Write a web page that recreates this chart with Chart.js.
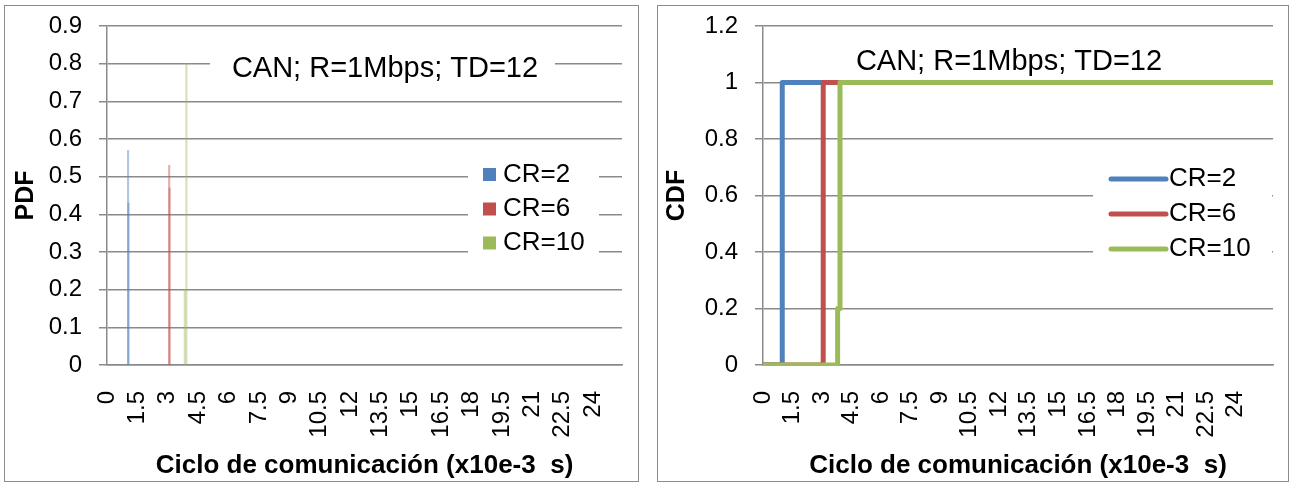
<!DOCTYPE html>
<html>
<head>
<meta charset="utf-8">
<title>CAN PDF / CDF</title>
<script src="https://cdn.jsdelivr.net/npm/chart.js@4.4.1/dist/chart.umd.min.js"></script>
<style>
    html, body { margin: 0; padding: 0; background: #fff; }
    body { width: 1290px; height: 486px; position: relative; overflow: hidden; }
    .panel {
        position: absolute;
        top: 5px;
        height: 477px;
        border: 1px solid #8c8c8c;
        box-sizing: border-box;
        background: #fff;
    }
    #panel-pdf { left: 4px;   width: 635px; }
    #panel-cdf { left: 657px; width: 632px; }
    .panel canvas { display: block; }
</style>
</head>
<body>
<div class="panel" id="panel-pdf"><canvas id="chart-pdf" width="633" height="475"></canvas></div>
<div class="panel" id="panel-cdf"><canvas id="chart-cdf" width="630" height="475"></canvas></div>

<script>
// ---------------------------------------------------------------------------
// Data
// ---------------------------------------------------------------------------

const CR_LABELS = ['CR=2', 'CR=6', 'CR=10'];
const CR_COLORS = ['#4F81BD', '#C0504D', '#9BBB59'];
const CR_BARS   = ['rgba(79,129,189,0.45)', 'rgba(192,80,77,0.45)', 'rgba(155,187,89,0.42)'];

const X_TICKS     = [0, 1.5, 3, 4.5, 6, 7.5, 9, 10.5, 12, 13.5, 15, 16.5, 18, 19.5, 21, 22.5, 24];
const PDF_Y_TICKS = [0, 0.1, 0.2, 0.3, 0.4, 0.5, 0.6, 0.7, 0.8, 0.9];
const CDF_Y_TICKS = [0, 0.2, 0.4, 0.6, 0.8, 1, 1.2];

// PDF: the two non-zero bins of each series
const pdfX_cr2  = [1.04, 1.06];
const pdfY_cr2  = [0.57, 0.43];
const pdfX_cr6  = [3.07, 3.09];
const pdfY_cr6  = [0.53, 0.47];
const pdfX_cr10 = [3.84, 3.92];
const pdfY_cr10 = [0.2, 0.8];

// CDF: step curves
const cdfX_cr2  = [0, 0.97, 0.975, 0.98, 25.9];
const cdfY_cr2  = [0, 0, 0.43, 1, 1];
const cdfX_cr6  = [0, 3.05, 3.055, 3.06, 25.9];
const cdfY_cr6  = [0, 0, 0.47, 1, 1];
const cdfX_cr10 = [0, 3.78, 3.79, 3.9, 3.91, 25.9];
const cdfY_cr10 = [0, 0, 0.2, 0.2, 1, 1];

const FONT      = '"Liberation Sans", Arial, sans-serif';
const GRID_GREY = '#8a8a8a';
const X_TITLE   = 'Ciclo de comunicación (x10e-3  s)';
const PANEL_TITLE = 'CAN; R=1Mbps; TD=12';

Chart.defaults.font.family = FONT;
Chart.defaults.color = '#000';

const points = (xs, ys) => xs.map((x, i) => ({ x, y: ys[i] }));

// ---------------------------------------------------------------------------
// In-plot title + legend box (drawn over the grid, like the Excel original)
// ---------------------------------------------------------------------------

const panelNotes = {
    id: 'panelNotes',
    afterDatasetsDraw(chart, args, opts) {
        const ctx = chart.ctx;
        ctx.save();

        if (opts.titleBox) {
            const b = opts.titleBox;
            ctx.fillStyle = '#fff';
            ctx.fillRect(b.x, b.y, b.w, b.h);
        }
        ctx.fillStyle = '#000';
        ctx.font = `${opts.titleSize}px ${FONT}`;
        ctx.textAlign = 'center';
        ctx.textBaseline = 'middle';
        ctx.fillText(PANEL_TITLE, opts.titleX, opts.titleY);

        const lg = opts.legend;
        ctx.fillStyle = '#fff';
        ctx.fillRect(lg.x, lg.y, lg.w, lg.h);
        ctx.font = `${lg.size}px ${FONT}`;
        ctx.textAlign = 'left';

        CR_LABELS.forEach((label, i) => {
            const cy = lg.rows[i];
            if (lg.marker === 'box') {
                ctx.fillStyle = CR_COLORS[i];
                ctx.fillRect(lg.markerX, cy - 6.5, 13, 13);
            } else {
                ctx.strokeStyle = CR_COLORS[i];
                ctx.lineWidth = 5;
                ctx.lineCap = 'round';
                ctx.beginPath();
                ctx.moveTo(lg.markerX, cy);
                ctx.lineTo(lg.markerX + lg.markerW, cy);
                ctx.stroke();
            }
            ctx.fillStyle = '#000';
            ctx.fillText(label, lg.textX, cy);
        });

        ctx.restore();
    },
};

// ---------------------------------------------------------------------------
// Shared axis builders
// ---------------------------------------------------------------------------

function xAxis(max) {
    return {
        type: 'linear',
        min: 0,
        max,
        offset: false,
        afterBuildTicks: axis => { axis.ticks = X_TICKS.map(v => ({ value: v })); },
        afterFit: axis => {
            axis.height = 116;
            axis.paddingLeft = 0;
            axis.paddingRight = 0;
        },
        ticks: {
            autoSkip: false,
            minRotation: 90,
            maxRotation: 90,
            padding: 26,
            font: { size: 24 },
            callback: v => String(v),
        },
        grid: { display: false, drawTicks: false },
        border: { display: true, color: GRID_GREY, width: 1.5 },
        title: {
            display: true,
            text: X_TITLE,
            font: { size: 26, weight: 'bold' },
            padding: { top: 0, bottom: 0 },
        },
    };
}

function yAxis(max, tickValues, title, width, titlePad) {
    return {
        min: 0,
        max,
        afterBuildTicks: axis => { axis.ticks = tickValues.map(v => ({ value: v })); },
        afterFit: axis => {
            axis.width = width;
            axis.paddingTop = 0;
            axis.paddingBottom = 0;
        },
        ticks: {
            padding: 17,
            font: { size: 24 },
            callback: v => String(v),
        },
        grid: { color: GRID_GREY, lineWidth: 1.5, tickLength: 8 },
        border: { display: true, color: GRID_GREY, width: 1.5 },
        title: {
            display: true,
            text: title,
            font: { size: 25, weight: 'bold' },
            padding: { top: titlePad, bottom: 0 },
        },
    };
}

const baseOptions = {
    responsive: false,
    animation: false,
    events: [],
};

// ---------------------------------------------------------------------------
// PDF (left)
// ---------------------------------------------------------------------------

new Chart(document.getElementById('chart-pdf'), {
    type: 'bar',
    data: {
        datasets: [
            { label: CR_LABELS[0], data: points(pdfX_cr2,  pdfY_cr2),  backgroundColor: CR_BARS[0] },
            { label: CR_LABELS[1], data: points(pdfX_cr6,  pdfY_cr6),  backgroundColor: CR_BARS[1] },
            { label: CR_LABELS[2], data: points(pdfX_cr10, pdfY_cr10), backgroundColor: CR_BARS[2] },
        ],
    },
    options: {
        ...baseOptions,
        layout: { padding: { left: 0, right: 16, top: 20, bottom: 0 } },
        datasets: { bar: { barThickness: 1.5, grouped: false, borderWidth: 0 } },
        scales: {
            x: xAxis(25.43),
            y: yAxis(0.9, PDF_Y_TICKS, 'PDF', 102, 6),
        },
        plugins: {
            legend: { display: false },
            tooltip: { enabled: false },
            panelNotes: {
                titleSize: 29,
                titleX: 380,
                titleY: 63,
                titleBox: { x: 205, y: 45, w: 345, h: 36 },
                legend: {
                    marker: 'box',
                    size: 26,
                    x: 463, y: 149, w: 131, h: 115,
                    markerX: 478,
                    textX: 498,
                    rows: [168.5, 203, 237],
                },
            },
        },
    },
    plugins: [panelNotes],
});

// ---------------------------------------------------------------------------
// CDF (right)
// ---------------------------------------------------------------------------

new Chart(document.getElementById('chart-cdf'), {
    type: 'line',
    data: {
        datasets: [
            { label: CR_LABELS[0], data: points(cdfX_cr2,  cdfY_cr2),  borderColor: CR_COLORS[0], order: 3 },
            { label: CR_LABELS[1], data: points(cdfX_cr6,  cdfY_cr6),  borderColor: CR_COLORS[1], order: 2 },
            { label: CR_LABELS[2], data: points(cdfX_cr10, cdfY_cr10), borderColor: CR_COLORS[2], order: 1 },
        ],
    },
    options: {
        ...baseOptions,
        layout: { padding: { left: 0, right: 15, top: 20, bottom: 0 } },
        datasets: {
            line: {
                borderWidth: 5,
                pointRadius: 0,
                tension: 0,
                borderCapStyle: 'round',
                borderJoinStyle: 'round',
            },
        },
        scales: {
            x: xAxis(25.9),
            y: yAxis(1.2, CDF_Y_TICKS, 'CDF', 105, 4),
        },
        plugins: {
            legend: { display: false },
            tooltip: { enabled: false },
            panelNotes: {
                titleSize: 29,
                titleX: 351,
                titleY: 56,
                titleBox: null,
                legend: {
                    marker: 'line',
                    size: 26,
                    x: 435, y: 154, w: 179, h: 108,
                    markerX: 453,
                    markerW: 55,
                    textX: 511,
                    rows: [173, 208, 243],
                },
            },
        },
    },
    plugins: [panelNotes],
});
</script>
</body>
</html>
